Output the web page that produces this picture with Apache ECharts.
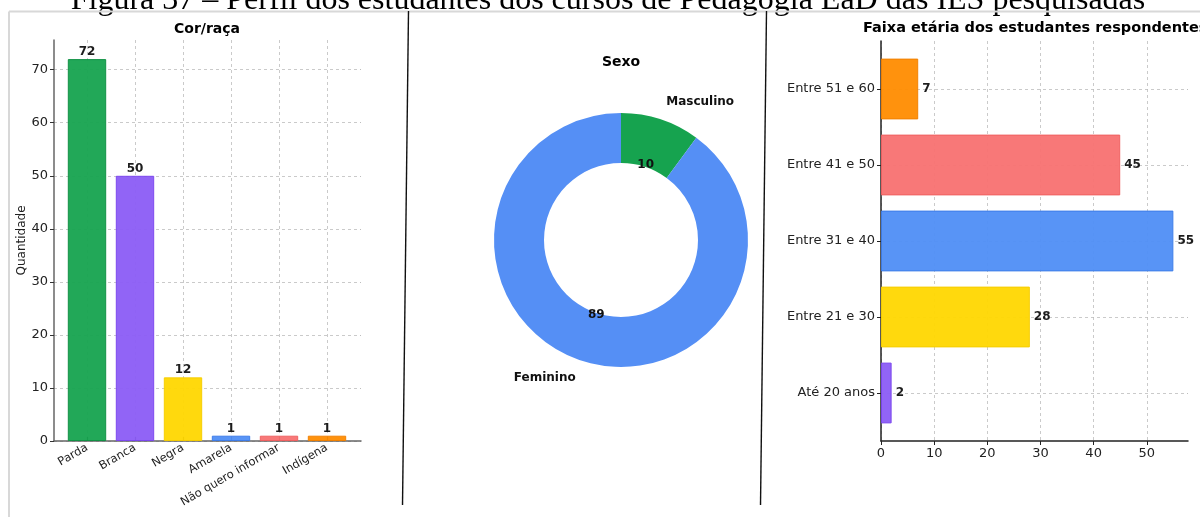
<!DOCTYPE html>
<html lang="pt-BR">
<head>
<meta charset="utf-8">
<title>Perfil dos estudantes dos cursos de Pedagogia EaD</title>
<script src="https://cdn.jsdelivr.net/npm/echarts@6/dist/echarts.min.js"></script>
<style>
  html, body { margin: 0; padding: 0; background: #ffffff; }
  #chart { width: 1200px; height: 517px; }
</style>
</head>
<body>
<div id="chart"></div>
<script>
// ---- Dados ----
const racaCategorias = ['Parda', 'Branca', 'Negra', 'Amarela', 'Não quero informar', 'Indígena'];
const racaValores = [72, 50, 12, 1, 1, 1];

const sexoCategorias = ['Masculino', 'Feminino'];
const sexoValores = [10, 89];

const idadeCategorias = ['Até 20 anos', 'Entre 21 e 30', 'Entre 31 e 40', 'Entre 41 e 50', 'Entre 51 e 60'];
const idadeValores = [2, 28, 55, 45, 7];

const racaTicks = [0, 10, 20, 30, 40, 50, 60, 70];
const idadeTicks = [0, 10, 20, 30, 40, 50];

// ---- Estilo ----
const FONT = 'DejaVu Sans';
const corRaca = ['#16a34f', '#8b5cf6', '#ffd700', '#4f8ef5', '#f87171', '#ff8c00'];
const bordaRaca = ['#0f8f42', '#7a46ee', '#f5cc00', '#3b7be8', '#ef5f5f', '#f07f00'];
const corSexo = ['#16a34f', '#558ff5'];
const corIdade = ['#8b5cf6', '#ffd700', '#4f8ef5', '#f87171', '#ff8c00'];
const bordaIdade = ['#7a46ee', '#f5cc00', '#3b7be8', '#ef5f5f', '#f07f00'];

const grade = { show: true, lineStyle: { color: '#bdbdbd', width: 0.8, type: [3, 3] } };
const rotulo = { fontFamily: FONT, fontSize: 13, color: '#222' };
const titulo = { fontFamily: FONT, fontSize: 14, fontWeight: 'bold', color: '#000' };

const chart = echarts.init(document.getElementById('chart'), null, { renderer: 'canvas' });

const option = {
  backgroundColor: '#ffffff',
  animation: false,
  title: [
    { text: 'Cor/raça', left: 207, top: 22, padding: 0, textAlign: 'center', textStyle: titulo },
    { text: 'Sexo', left: 621, top: 55, padding: 0, textAlign: 'center', textStyle: titulo },
    { text: 'Faixa etária dos estudantes respondentes', left: 863, top: 21, padding: 0,
      textStyle: Object.assign({}, titulo, { fontSize: 14.5 }) }
  ],
  graphic: [
    // legenda da figura (parcialmente fora da área visível)
    { type: 'text', x: 608, y: 0.5, silent: true,
      style: { text: 'Figura 37 – Perfil dos estudantes dos cursos de Pedagogia EaD das IES pesquisadas',
               font: '32px "Liberation Serif"', fill: '#000', align: 'center', verticalAlign: 'middle' } },
    // moldura da página
    { type: 'line', silent: true, shape: { x1: 9, y1: 11.5, x2: 1200, y2: 11.5 },
      style: { stroke: '#d8d8d8', lineWidth: 2 } },
    { type: 'line', silent: true, shape: { x1: 9, y1: 11.5, x2: 9, y2: 517 },
      style: { stroke: '#d8d8d8', lineWidth: 2 } },
    // divisórias entre os painéis
    { type: 'line', silent: true, shape: { x1: 408.5, y1: 11, x2: 402.5, y2: 505 },
      style: { stroke: '#111', lineWidth: 1.4 } },
    { type: 'line', silent: true, shape: { x1: 766.5, y1: 11, x2: 760.5, y2: 505 },
      style: { stroke: '#111', lineWidth: 1.4 } }
  ],
  grid: [
    { left: 54, top: 40, width: 307, height: 401 },   // moldura Cor/raça
    { left: 63, top: 40, width: 288, height: 401 },   // barras Cor/raça
    { left: 881, top: 41, width: 307, height: 400 },  // moldura Faixa etária
    { left: 881, top: 51, width: 307, height: 380 }   // barras Faixa etária
  ],
  xAxis: [
    { gridIndex: 0, type: 'value', min: -0.69, max: 5.71,
      axisLine: { show: true, onZero: false, lineStyle: { color: '#666', width: 1.5 } },
      axisTick: { show: true, inside: true, length: 4, customValues: [0, 1, 2, 3, 4, 5],
                  lineStyle: { color: '#333', width: 1.2 } },
      axisLabel: { show: true, customValues: [0, 1, 2, 3, 4, 5], rotate: 30, margin: 6,
                   fontFamily: FONT, fontSize: 11.5, color: '#222',
                   formatter: v => racaCategorias[Math.round(v)] || '' },
      splitLine: grade },
    { gridIndex: 1, type: 'category', data: racaCategorias, show: false },
    { gridIndex: 2, type: 'value', min: 0, max: 57.75,
      axisLine: { show: true, onZero: false, lineStyle: { color: '#222', width: 1.5 } },
      axisTick: { show: true, length: 4, customValues: idadeTicks, lineStyle: { color: '#222' } },
      axisLabel: Object.assign({ customValues: idadeTicks, margin: 6 }, rotulo),
      splitLine: grade },
    { gridIndex: 3, type: 'value', min: 0, max: 57.75, show: false }
  ],
  yAxis: [
    { gridIndex: 0, type: 'value', min: 0, max: 75.6,
      name: 'Quantidade', nameLocation: 'middle', nameGap: 24, nameRotate: 90,
      nameTextStyle: { fontFamily: FONT, fontSize: 12, color: '#222' },
      axisLine: { show: true, onZero: false, lineStyle: { color: '#666', width: 1.5 } },
      axisTick: { show: true, length: 4, customValues: racaTicks, lineStyle: { color: '#333' } },
      axisLabel: Object.assign({ customValues: racaTicks, margin: 6 }, rotulo),
      splitLine: grade },
    { gridIndex: 1, type: 'value', min: 0, max: 75.6, show: false },
    { gridIndex: 2, type: 'value', min: -0.63, max: 4.63,
      axisLine: { show: true, onZero: false, lineStyle: { color: '#222', width: 1.5 } },
      axisTick: { show: true, length: 4, customValues: [0, 1, 2, 3, 4], lineStyle: { color: '#222' } },
      axisLabel: Object.assign({ customValues: [0, 1, 2, 3, 4], margin: 6,
                                 formatter: v => idadeCategorias[Math.round(v)] || '' }, rotulo),
      splitLine: grade },
    { gridIndex: 3, type: 'category', data: idadeCategorias, show: false }
  ],
  series: [
    {
      name: 'Cor/raça', type: 'bar', xAxisIndex: 1, yAxisIndex: 1, barWidth: '80%',
      data: racaValores.map((v, i) => ({
        value: v,
        itemStyle: { color: corRaca[i], opacity: 0.95, borderColor: bordaRaca[i], borderWidth: 1 }
      })),
      label: { show: true, position: 'top', distance: 1,
               fontFamily: FONT, fontSize: 12, fontWeight: 'bold', color: '#111' },
      silent: true
    },
    {
      name: 'Faixa etária', type: 'bar', xAxisIndex: 3, yAxisIndex: 3, barWidth: '80%',
      data: idadeValores.map((v, i) => ({
        value: v,
        itemStyle: { color: corIdade[i], opacity: 0.95, borderColor: bordaIdade[i], borderWidth: 1 }
      })),
      label: { show: true, position: 'right', distance: 4,
               fontFamily: FONT, fontSize: 12, fontWeight: 'bold', color: '#111' },
      silent: true
    },
    {
      name: 'Sexo', type: 'pie', center: [621, 240], radius: [77, 127],
      startAngle: 90, clockwise: true, avoidLabelOverlap: false, silent: true,
      data: sexoCategorias.map((n, i) => ({ name: n, value: sexoValores[i],
                                            itemStyle: { color: corSexo[i] } })),
      label: { show: true, position: 'outside', formatter: '{b}', distanceToLabelLine: 0,
               fontFamily: FONT, fontSize: 12, fontWeight: 'bold', color: '#111' },
      labelLine: { show: false, length: 18, length2: 0 }
    },
    {
      // valores sobre o anel
      name: 'Sexo (valores)', type: 'pie', center: [621, 240], radius: [0, 152],
      startAngle: 90, clockwise: true, avoidLabelOverlap: false, silent: true,
      data: sexoCategorias.map((n, i) => ({ name: n, value: sexoValores[i],
                                            itemStyle: { color: 'rgba(0,0,0,0)' } })),
      label: { show: true, position: 'inside', formatter: '{c}',
               fontFamily: FONT, fontSize: 12, fontWeight: 'bold', color: '#111' },
      labelLine: { show: false }
    }
  ]
};

chart.setOption(option);
</script>
</body>
</html>
